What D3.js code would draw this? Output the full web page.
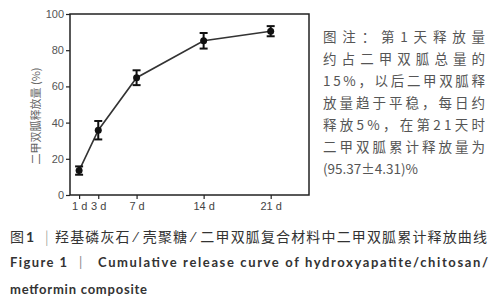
<!DOCTYPE html>
<html>
<head>
<meta charset="utf-8">
<script src="https://cdn.jsdelivr.net/npm/d3@7"></script>
<style>
  body { margin: 0; background: #fff; }
  svg { display: block; }
</style>
</head>
<body>
<div id="chart"></div>
<script>
// release data
var days = [1, 3, 7, 14, 21];
var release = [13.5, 35.8, 64.8, 85.2, 90.5];
var releaseErr = [2.3, 5.1, 4.1, 4.3, 2.8];
var yTicks = [0, 20, 40, 60, 80, 100];

var noteLines = ['图注：第1天释放量', '约占二甲双胍总量的', '15%，以后二甲双胍释',
                 '放量趋于平稳，每日约', '释放5%，在第21天时', '二甲双胍累计释放量为', '(95.37±4.31)%'];

var W = 503, H = 300;
var margin = {top: 14, right: 194, bottom: 105, left: 70},
    width = W - margin.left - margin.right,
    height = H - margin.top - margin.bottom;

var svg = d3.select('#chart').append('svg')
    .attr('width', W)
    .attr('height', H);

var g = svg.append('g').attr('transform', 'translate(' + margin.left + ',' + margin.top + ')');

var x = d3.scaleLinear().domain([0.05, 25]).range([0, width]);
var y = d3.scaleLinear().domain([0, 100]).range([height, 0]);

var tickFont = '"Liberation Sans", Arial, sans-serif';

// y axis
var yAxis = g.append('g')
    .call(d3.axisLeft(y).tickValues(yTicks).tickSize(4).tickPadding(2));
yAxis.select('.domain').remove();
yAxis.selectAll('line').attr('stroke', '#222').attr('stroke-width', 1.2);
yAxis.selectAll('text').attr('fill', '#555').style('font-family', tickFont).style('font-size', '11px');

// x axis
var xAxis = g.append('g')
    .attr('transform', 'translate(0,' + height + ')')
    .call(d3.axisBottom(x).tickValues(days).tickSize(4).tickPadding(3)
      .tickFormat(function(d) { return d + ' d'; }));
xAxis.select('.domain').remove();
xAxis.selectAll('line').attr('stroke', '#222').attr('stroke-width', 1.2);
xAxis.selectAll('text').attr('fill', '#444').style('font-family', tickFont).style('font-size', '11px');

// frame
g.append('rect')
    .attr('width', width).attr('height', height)
    .attr('fill', 'none').attr('stroke', '#222').attr('stroke-width', 1.5);

var pts = days.map(function(d, i) { return {d: d, v: release[i], e: releaseErr[i]}; });

var line = d3.line().x(function(p) { return x(p.d); }).y(function(p) { return y(p.v); });
g.append('path').datum(pts)
    .attr('d', line)
    .attr('fill', 'none').attr('stroke', '#333').attr('stroke-width', 1.6);

var eb = g.selectAll('.eb').data(pts).enter().append('g').attr('class', 'eb');
eb.append('line')
    .attr('x1', function(p) { return x(p.d); }).attr('x2', function(p) { return x(p.d); })
    .attr('y1', function(p) { return y(p.v - p.e); }).attr('y2', function(p) { return y(p.v + p.e); })
    .attr('stroke', '#111').attr('stroke-width', 2);
[-1, 1].forEach(function(s) {
  eb.append('line')
      .attr('x1', function(p) { return x(p.d) - 4; }).attr('x2', function(p) { return x(p.d) + 4; })
      .attr('y1', function(p) { return y(p.v + s * p.e); }).attr('y2', function(p) { return y(p.v + s * p.e); })
      .attr('stroke', '#111').attr('stroke-width', 2);
});
eb.append('circle')
    .attr('cx', function(p) { return x(p.d); }).attr('cy', function(p) { return y(p.v); })
    .attr('r', 3.5).attr('fill', '#111');

// y label
svg.append('text')
    .attr('transform', 'translate(40,116) rotate(-90)')
    .attr('text-anchor', 'middle')
    .attr('fill', '#666')
    .style('font-family', '"Noto Sans CJK SC", sans-serif')
    .style('font-size', '11px')
    .text('二甲双胍释放量 (%)');

// note text on the right
var noteY = [42, 64, 86, 108, 130, 152, 174];
svg.selectAll('.note').data(noteLines).enter().append('text')
    .attr('class', 'note')
    .attr('x', 323)
    .attr('y', function(d, i) { return noteY[i]; })
    .attr('fill', '#555')
    .style('font-family', '"Noto Sans CJK SC", sans-serif')
    .style('font-size', '13.5px')
    .each(function(d, i) {
      if (i < noteLines.length - 1) d3.select(this).attr('textLength', 162).attr('lengthAdjust', 'spacing');
    })
    .text(function(d) { return d; });

// caption
var cap = svg.append('g').attr('fill', '#333');
var cn = cap.append('text').attr('y', 242)
    .style('font-family', '"Noto Sans CJK SC", sans-serif').style('font-size', '14px');
cn.append('tspan').attr('x', 10).text('图');
cn.append('tspan').attr('x', 26).style('font-weight', 'bold').style('font-family', 'Lato, sans-serif').text('1');
cn.append('tspan').attr('x', 45).attr('fill', '#888').style('font-weight', '300').text('|');
cn.append('tspan').attr('x', 55).attr('textLength', 432).attr('lengthAdjust', 'spacing')
    .text('羟基磷灰石 ⁄ 壳聚糖 ⁄ 二甲双胍复合材料中二甲双胍累计释放曲线');

var en = cap.append('text').attr('y', 267)
    .style('font-family', 'Lato, sans-serif').style('font-size', '13px').style('font-weight', 'bold');
en.append('tspan').attr('x', 10).attr('textLength', 57).attr('lengthAdjust', 'spacing').text('Figure 1');
en.append('tspan').attr('x', 79).attr('fill', '#888').style('font-weight', 'normal').text('|');
en.append('tspan').attr('x', 98).attr('textLength', 390).attr('lengthAdjust', 'spacing')
    .text('Cumulative release curve of hydroxyapatite/chitosan/');

cap.append('text').attr('x', 10).attr('y', 294)
    .attr('textLength', 137).attr('lengthAdjust', 'spacing')
    .style('font-family', 'Lato, sans-serif').style('font-size', '13px').style('font-weight', 'bold')
    .text('metformin composite');
</script>
</body>
</html>
